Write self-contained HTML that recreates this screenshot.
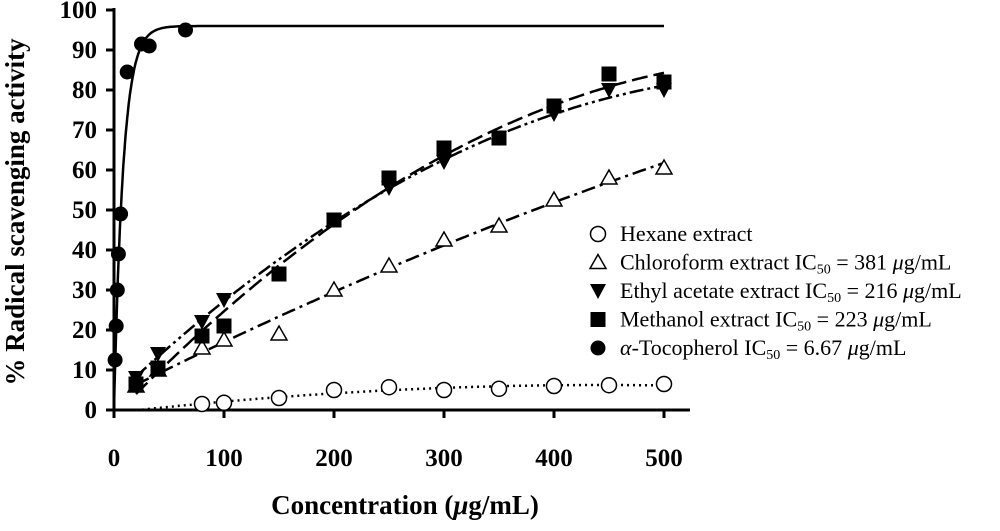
<!DOCTYPE html>
<html><head><meta charset="utf-8"><style>
body{margin:0;background:#fff}
svg text{font-family:"Liberation Serif",serif}
</style></head><body>
<svg id="c" width="1000" height="526" viewBox="0 0 1000 526" xmlns="http://www.w3.org/2000/svg"></svg>
<script>
const xTicks=[0,100,200,300,400,500];
const yTicks=[0,10,20,30,40,50,60,70,80,90,100];
const tocoX=[1,2,3,4,6,12,25,32,65];
const tocoY=[12.5,21,30,39,49,84.5,91.5,91,95];
const hexX=[80,100,150,200,250,300,350,400,450,500];
const hexY=[1.5,1.8,3,5,5.7,5,5.3,6,6.2,6.5];
const chlX=[20,40,80,100,150,200,250,300,350,400,450,500];
const chlY=[6,10,15.5,17.5,19,30,36,42.5,46,52.5,58,60.5];
const ethX=[20,40,80,100,200,250,300,350,400,450,500];
const ethY=[8,14,22,27.5,47.5,55.5,62,68,74,80,80];
const metX=[20,40,80,100,150,200,250,300,350,400,450,500];
const metY=[6.5,10.5,18.5,21,34,47.5,58,65.5,68,76,84,82];
const tocoMax=96, tocoK=0.119;

const NS="http://www.w3.org/2000/svg", svg=document.getElementById('c');
const X=v=>114+v*1.1, Y=v=>410-v*4;
function el(t,a,p){const e=document.createElementNS(NS,t);for(const k in a)e.setAttribute(k,a[k]);(p||svg).appendChild(e);return e;}
let ax=el('line',{x1:114,y1:410,x2:690,y2:410,stroke:'#000','stroke-width':3});

ax=el('line',{x1:114,y1:8,x2:114,y2:411,stroke:'#000','stroke-width':3});

xTicks.forEach(v=>{
 el('line',{x1:X(v),y1:410,x2:X(v),y2:418,stroke:'#000','stroke-width':3});
 const t=el('text',{x:X(v),y:466,'text-anchor':'middle','font-size':25,'font-weight':'bold'});t.textContent=v;
 
});
yTicks.forEach(v=>{
 el('line',{x1:106,y1:Y(v),x2:114,y2:Y(v),stroke:'#000','stroke-width':3});
 const t=el('text',{x:97,y:Y(v)+8,'text-anchor':'end','font-size':25,'font-weight':'bold'});t.textContent=v;
 
});
let t=el('text',{x:405,y:514,'text-anchor':'middle','font-size':27,'font-weight':'bold'});
t.innerHTML='Concentration (<tspan font-style="italic">μ</tspan>g/mL)';

t=el('text',{x:0,y:0,'text-anchor':'middle','font-size':27,'font-weight':'bold',transform:'translate(24,212) rotate(-90)'});
t.textContent='% Radical scavenging activity';


function quadFit(xs,ys){let S=[[0,0,0],[0,0,0],[0,0,0]],b=[0,0,0];
 xs.forEach((x,i)=>{const p=[1,x,x*x];for(let r=0;r<3;r++){b[r]+=p[r]*ys[i];for(let c=0;c<3;c++)S[r][c]+=p[r]*p[c];}});
 for(let i=0;i<3;i++){for(let j=i+1;j<3;j++){const f=S[j][i]/S[i][i];for(let k=0;k<3;k++)S[j][k]-=f*S[i][k];b[j]-=f*b[i];}}
 const c=[0,0,0];for(let i=2;i>=0;i--){let s=b[i];for(let k=i+1;k<3;k++)s-=S[i][k]*c[k];c[i]=s/S[i][i];}
 return x=>c[0]+c[1]*x+c[2]*x*x;}
function curve(f,x0,x1,dash,name){let d='';for(let x=x0;x<=x1+1e-9;x+=(x1-x0)/200)d+=(d?'L':'M')+X(x).toFixed(1)+','+Y(f(x)).toFixed(1);
 const p=el('path',{d,fill:'none',stroke:'#000','stroke-width':2.5,'stroke-dasharray':dash});
 }
curve(quadFit(hexX,hexY),20,500,'2 4','hexane-fit-line');
curve(quadFit(chlX,chlY),20,500,'14 5 3 5','chloroform-fit-line');
curve(quadFit(ethX,ethY),20,500,'14 4 3 4 3 4','ethyl-acetate-fit-line');
curve(quadFit(metX,metY),20,500,'16 6','methanol-fit-line');
let d='';for(let x=0;x<=500;x+=0.5)d+=(d?'L':'M')+X(x).toFixed(1)+','+Y(tocoMax*(1-Math.exp(-tocoK*x))).toFixed(1);
let p=el('path',{d,fill:'none',stroke:'#000','stroke-width':2.5});


function marker(type,cx,cy,g){
 if(type==='circle')return el('circle',{cx,cy,r:7.5,fill:'#fff',stroke:'#000','stroke-width':1.5},g);
 if(type==='dot')return el('circle',{cx,cy,r:7.5,fill:'#000'},g);
 if(type==='tri')return el('polygon',{points:`${cx},${cy-8} ${cx-8},${cy+6} ${cx+8},${cy+6}`,fill:'#fff',stroke:'#000','stroke-width':1.5},g);
 if(type==='itri')return el('polygon',{points:`${cx-8},${cy-7} ${cx+8},${cy-7} ${cx},${cy+8}`,fill:'#000'},g);
 if(type==='sq')return el('rect',{x:cx-7.5,y:cy-7.5,width:15,height:15,fill:'#000'},g);}
function series(xs,ys,type,name){const g=el('g',{});
 xs.forEach((x,i)=>{const m=marker(type,X(x),Y(ys[i]),g);});}
series(hexX,hexY,'circle','hexane-series');
series(chlX,chlY,'tri','chloroform-series');
series(ethX,ethY,'itri','ethyl-acetate-series');
series(metX,metY,'sq','methanol-series');
series(tocoX,tocoY,'dot','tocopherol-series');

const leg=[['circle','Hexane extract'],['tri','Chloroform extract IC<tspan font-size="14" dy="4">50</tspan><tspan dy="-4"> = 381 </tspan><tspan font-style="italic">μ</tspan>g/mL'],
['itri','Ethyl acetate extract IC<tspan font-size="14" dy="4">50</tspan><tspan dy="-4"> = 216 </tspan><tspan font-style="italic">μ</tspan>g/mL'],
['sq','Methanol extract IC<tspan font-size="14" dy="4">50</tspan><tspan dy="-4"> = 223 </tspan><tspan font-style="italic">μ</tspan>g/mL'],
['dot','<tspan font-style="italic"> α</tspan>-Tocopherol IC<tspan font-size="14" dy="4">50</tspan><tspan dy="-4"> = 6.67 </tspan><tspan font-style="italic">μ</tspan>g/mL']];
leg.forEach((l,i)=>{const cy=234+i*28.5;const g=el('g',{});
 marker(l[0],598,cy,g);const tx=el('text',{x:620,y:cy+7,'font-size':22,textLength:i===0?'':null},g);tx.removeAttribute('textLength');tx.innerHTML=l[1];});
</script>
</body></html>
